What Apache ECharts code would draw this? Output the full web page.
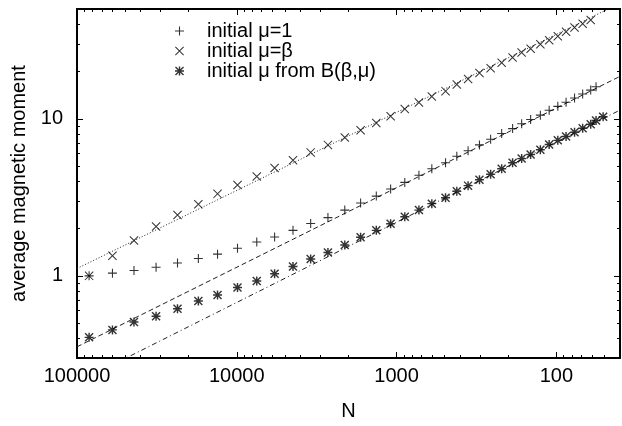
<!DOCTYPE html>
<html><head><meta charset="utf-8">
<script src="https://cdn.jsdelivr.net/npm/echarts@6/dist/echarts.min.js"></script>
<style>html,body{margin:0;padding:0;background:#fff}#c{width:622px;height:426px}</style>
</head><body><div id="c"></div>
<script>
// ---- data ----
const N = [84000, 60000, 44000, 32000, 23500, 17400, 13200, 9900, 7500, 5800, 4450, 3450, 2690, 2110, 1680, 1340, 1090, 889, 725, 602, 494, 420, 357, 303, 258, 220, 188, 165, 145, 126, 111, 98, 87, 77, 68.5, 61, 56.5, 51];
const muOne = [1.0, 1.041, 1.082, 1.134, 1.208, 1.289, 1.375, 1.498, 1.641, 1.770, 1.949, 2.154, 2.349, 2.622, 2.912, 3.220, 3.575, 3.936, 4.37, 4.81, 5.245, 5.77, 6.26, 6.82, 7.40, 8.06, 8.66, 9.31, 9.90, 10.55, 11.33, 12.0, 12.76, 13.57, 14.38, 15.23, 15.98];
const muBeta = [1.0, 1.342, 1.681, 2.064, 2.44, 2.858, 3.327, 3.786, 4.29, 4.86, 5.45, 6.11, 6.82, 7.61, 8.45, 9.40, 10.39, 11.54, 12.71, 13.85, 15.0, 16.52, 17.93, 19.54, 21.0, 22.75, 24.59, 26.42, 27.9, 29.8, 31.6, 33.5, 35.8, 38.1, 40.3, 42.6];
const muB = [0.406, 0.453, 0.508, 0.554, 0.618, 0.691, 0.756, 0.844, 0.928, 1.032, 1.146, 1.280, 1.407, 1.571, 1.762, 1.949, 2.145, 2.382, 2.622, 2.883, 3.142, 3.459, 3.754, 4.091, 4.434, 4.81, 5.245, 5.578, 5.925, 6.36, 6.86, 7.29, 7.72, 8.21, 8.70, 9.24, 9.74, 10.29];
// fitted power-law lines (end points)
const fitN = [100000, 40];
const fitOne = [0.3534, 18.62];
const fitBeta = [1.114, 54.4];
const fitB = [0.209, 11.36];
// axis ticks
const xMajor = [100, 1000, 10000, 100000];
const xMinor = [50, 60, 70, 80, 90, 200, 300, 400, 500, 600, 700, 800, 900, 2000, 3000, 4000, 5000, 6000, 7000, 8000, 9000, 20000, 30000, 40000, 50000, 60000, 70000, 80000, 90000];
const yMajor = [1, 10];
const yMinor = [0.4, 0.5, 0.6, 0.7, 0.8, 0.9, 2, 3, 4, 5, 6, 7, 8, 9, 20, 30, 40];
const names = ['initial \u03bc=1', 'initial \u03bc=\u03b2', 'initial \u03bc from B(\u03b2,\u03bc)'];

const FONT = 'Liberation Sans, Arial, Helvetica, sans-serif';
const PLUS = 'path://M0,4.4h10v1.2h-10z M4.4,0h1.2v10h-1.2z';
const CROSS = 'path://M0.8,0L10,9.2L9.2,10L0,0.8Z M9.2,0L10,0.8L0.8,10L0,9.2Z';
const STAR = 'path://M0,4.2h10v1.6h-10z M4.2,0h1.6v10h-1.6z M1.1,0L10,8.9L8.9,10L0,1.1Z M8.9,0L10,1.1L1.1,10L0,8.9Z';

function pairs(xs, ys) { return ys.map((v, i) => [xs[i], v]); }
const plain = v => String(+Number(v).toPrecision(6));

function xAx(pos, ticks, len, labels, line) {
  return {
    type: 'log', logBase: 10, inverse: true, min: 40, max: 100000, position: pos,
    axisLine: { show: line, onZero: false, lineStyle: { color: '#000', width: 2 } },
    axisTick: { show: true, inside: true, length: len, customValues: ticks, lineStyle: { color: '#000', width: 1 } },
    axisLabel: labels ? { show: true, customValues: xMajor, formatter: plain, margin: 8, color: '#000', fontSize: 20, fontFamily: FONT } : { show: false },
    splitLine: { show: false }, minorTick: { show: false },
    name: labels ? 'N' : '', nameLocation: 'middle', nameGap: 43,
    nameTextStyle: { color: '#000', fontSize: 20, fontFamily: FONT }
  };
}
function yAx(pos, ticks, len, labels, line) {
  return {
    type: 'log', logBase: 10, min: 0.3, max: 50, position: pos,
    axisLine: { show: line, onZero: false, lineStyle: { color: '#000', width: 2 } },
    axisTick: { show: true, inside: true, length: len, customValues: ticks, lineStyle: { color: '#000', width: 1 } },
    axisLabel: labels ? { show: true, customValues: yMajor, formatter: plain, margin: 14, color: '#000', fontSize: 20, fontFamily: FONT } : { show: false },
    splitLine: { show: false }, minorTick: { show: false },
    name: labels ? 'average magnetic moment' : '', nameLocation: 'middle', nameGap: 31,
    nameTextStyle: { color: '#000', fontSize: 20, fontFamily: FONT }
  };
}

const chart = echarts.init(document.getElementById('c'), null, { renderer: 'canvas' });
const lineBase = { type: 'line', xAxisIndex: 0, yAxisIndex: 0, showSymbol: false, symbol: 'none', clip: true, silent: true, z: 1 };
chart.setOption({
  animation: false,
  backgroundColor: '#fff',
  grid: { left: 77, right: 2, top: 9, bottom: 63, containLabel: false },
  legend: {
    orient: 'vertical', left: 175, top: 21, padding: 0, itemWidth: 9, itemHeight: 9, itemGap: 0,
    data: names, selectedMode: false, symbolKeepAspect: true,
    textStyle: { color: '#000', fontSize: 20, fontFamily: FONT, lineHeight: 18.5, padding: [0, 0, 0, 18] }
  },
  xAxis: [xAx('bottom', xMajor, 6, true, true), xAx('bottom', xMinor, 3, false, false),
          xAx('top', xMajor, 6, false, true), xAx('top', xMinor, 3, false, false)],
  yAxis: [yAx('left', yMajor, 6, true, true), yAx('left', yMinor, 3, false, false),
          yAx('right', yMajor, 6, false, true), yAx('right', yMinor, 3, false, false)],
  series: [
    Object.assign({}, lineBase, { name: 'fitBeta', data: pairs(fitN, fitBeta), lineStyle: { color: '#222', width: 1, type: [1, 2] } }),
    Object.assign({}, lineBase, { name: 'fitOne', data: pairs(fitN, fitOne), lineStyle: { color: '#222', width: 1, type: [5, 3] } }),
    Object.assign({}, lineBase, { name: 'fitB', data: pairs(fitN, fitB), lineStyle: { color: '#222', width: 1, type: [5, 3, 1, 3] } }),
    { type: 'scatter', name: names[0], data: pairs(N, muOne), symbol: PLUS, symbolSize: 9, symbolKeepAspect: true, itemStyle: { color: '#000' }, z: 3 },
    { type: 'scatter', name: names[1], data: pairs(N, muBeta), symbol: CROSS, symbolSize: 9, symbolKeepAspect: true, itemStyle: { color: '#000' }, z: 3 },
    { type: 'scatter', name: names[2], data: pairs(N, muB), symbol: STAR, symbolSize: 9, symbolKeepAspect: true, itemStyle: { color: '#000' }, z: 3 }
  ]
});
</script></body></html>
